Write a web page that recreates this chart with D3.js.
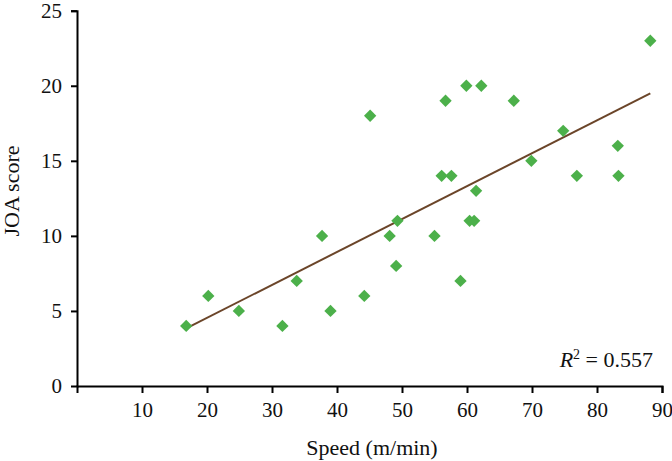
<!DOCTYPE html>
<html>
<head>
<meta charset="utf-8">
<script src="https://cdn.jsdelivr.net/npm/d3@7"></script>
<style>
  html, body { margin: 0; padding: 0; background: #fff; }
  text { font-family: 'Liberation Serif', 'Times New Roman', serif; fill: #111; }
</style>
</head>
<body>
<div id="chart"></div>
<script>
// speed (m/min) vs JOA score
const speed = [16.8, 20.2, 24.9, 31.6, 33.8, 37.7, 39.0, 44.2, 45.1, 48.1,
  49.1, 49.3, 55.0, 56.1, 56.7, 57.6, 59.0, 59.9, 60.4, 61.1,
  61.4, 62.2, 67.2, 69.9, 74.8, 76.9, 83.2, 83.3, 88.2]
const joa = [4, 6, 5, 4, 7, 10, 5, 6, 18, 10,
  8, 11, 10, 14, 19, 14, 7, 20, 11, 11,
  13, 20, 19, 15, 17, 14, 16, 14, 23]

// linear fit shown in the figure
const fitSlope = 0.2193
const fitIntercept = 0.156
const rSquared = '0.557'

const xTicks = [10, 20, 30, 40, 50, 60, 70, 80, 90]
const yTicks = [0, 5, 10, 15, 20, 25]

const width = 672
const height = 461
const margin = { top: 10.7, right: 10, bottom: 75, left: 77 }

const svg = d3.select('#chart')
  .append('svg')
  .attr('width', width)
  .attr('height', height)

const x = d3.scaleLinear().domain([0, 90]).range([margin.left, width - margin.right])
const y = d3.scaleLinear().domain([0, 25]).range([height - margin.bottom, margin.top])

const points = speed.map((s, i) => ({ x: s, y: joa[i] }))

// axes
const xAxis = svg.append('g')
  .attr('transform', `translate(0,${y(0)})`)
  .call(d3.axisBottom(x).tickValues(xTicks).tickSizeOuter(0).tickSize(7).tickPadding(9))

const yAxis = svg.append('g')
  .attr('transform', `translate(${x(0)},0)`)
  .call(d3.axisLeft(y).tickValues(yTicks).tickSizeOuter(0).tickSize(6).tickPadding(9))

// no tick mark at the origin, only its label
yAxis.selectAll('.tick').filter(d => d === 0).select('line').remove()

svg.selectAll('.domain, .tick line')
  .attr('stroke', '#000')
  .attr('stroke-width', 2)

svg.selectAll('.tick text')
  .attr('font-size', 21)
  .attr('font-family', 'Liberation Serif')
  .attr('fill', '#111')

// trend line
const x0 = d3.min(speed)
const x1 = d3.max(speed)
svg.append('line')
  .attr('x1', x(x0))
  .attr('y1', y(fitIntercept + fitSlope * x0))
  .attr('x2', x(x1))
  .attr('y2', y(fitIntercept + fitSlope * x1))
  .attr('stroke', '#6b4529')
  .attr('stroke-width', 2)

// diamonds
const diamond = d3.symbol().type(d3.symbolSquare).size(76)
svg.append('g')
  .selectAll('path')
  .data(points)
  .enter()
  .append('path')
  .attr('d', diamond)
  .attr('transform', d => `translate(${x(d.x)},${y(d.y)}) rotate(45)`)
  .attr('fill', '#4cb04a')

// labels
svg.append('text')
  .attr('x', 372)
  .attr('y', 455)
  .attr('text-anchor', 'middle')
  .attr('font-size', 22)
  .text('Speed (m/min)')

svg.append('text')
  .attr('transform', 'translate(19,191) rotate(-90)')
  .attr('text-anchor', 'middle')
  .attr('font-size', 22)
  .text('JOA score')

const r2 = svg.append('text')
  .attr('x', 653)
  .attr('y', 367)
  .attr('text-anchor', 'end')
  .attr('font-size', 22)
r2.append('tspan').attr('font-style', 'italic').text('R')
r2.append('tspan').attr('font-size', 14).attr('dy', -8).text('2')
r2.append('tspan').attr('dy', 8).text(' = ' + rSquared)
</script>
</body>
</html>
